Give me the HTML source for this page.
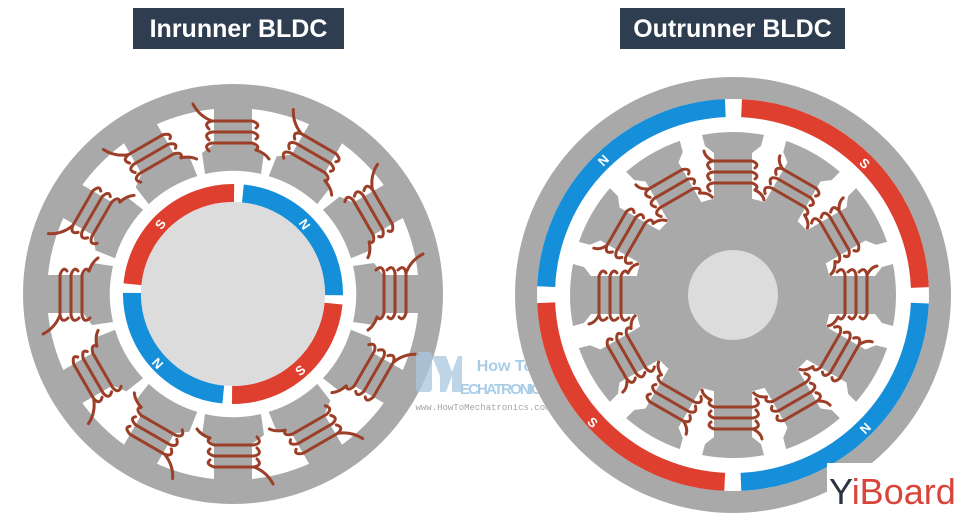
<!DOCTYPE html>
<html><head><meta charset="utf-8"><style>
html,body{margin:0;padding:0;background:#fff;}
svg{display:block;}
</style></head><body>
<svg width="960" height="520" viewBox="0 0 960 520" xmlns="http://www.w3.org/2000/svg">
<defs>
<g id="coilL" fill="none" stroke="#9c3f28" stroke-width="3" stroke-linecap="round">
  <path d="M -24 -143 Q -30 -149 -21 -151 L 19 -151 Q 28 -148 23 -144"/>
  <path d="M -24 -154 Q -30 -160 -21 -162 L 19 -162 Q 28 -159 23 -155"/>
  <path d="M -24 -165 Q -30 -171 -21 -173 L 19 -173 Q 28 -170 23 -166"/>
  <path d="M 23 -144 Q 32 -141 36 -135"/>
  <path d="M -21 -173 Q -34 -178 -40 -190"/>
</g>
<g id="toothL">
  <path d="M -19 -192 L 19 -192 L 19 -150 L 31 -141 L 28 -120 A 123.2 123.2 0 0 0 -28 -120 L -31 -141 L -19 -150 Z" fill="#a9a9a9"/>
</g>
<g id="coilR" fill="none" stroke="#9c3f28" stroke-width="3" stroke-linecap="round">
  <path d="M -23 -104 Q -29 -110 -20 -112 L 19 -112 Q 27 -109 22 -105"/>
  <path d="M -23 -115 Q -29 -121 -20 -123 L 19 -123 Q 27 -120 22 -116"/>
  <path d="M -23 -126 Q -29 -132 -20 -134 L 19 -134 Q 27 -131 22 -127"/>
  <path d="M 22 -105 Q 30 -101 31 -95"/>
  <path d="M -20 -134 Q -28 -138 -29 -144"/>
</g>
<g id="toothR">
  <path d="M -19 -80 L 19 -80 L 19 -142 L 28 -149 L 31 -160 A 163 163 0 0 0 -31 -160 L -28 -149 L -19 -142 Z" fill="#a9a9a9"/>
</g>
</defs>

<rect x="133" y="8" width="211" height="41" fill="#2e3e50"/>
<text x="238.5" y="37" text-anchor="middle" font-family="Liberation Sans, sans-serif" font-weight="bold" font-size="25" fill="#fff">Inrunner BLDC</text>
<rect x="620" y="8" width="225" height="41" fill="#2e3e50"/>
<text x="732.5" y="37" text-anchor="middle" font-family="Liberation Sans, sans-serif" font-weight="bold" font-size="25" fill="#fff">Outrunner BLDC</text>

<!-- LEFT -->
<g>
<circle cx="233" cy="294" r="210" fill="#a9a9a9"/>
<circle cx="233" cy="294" r="186" fill="#fff"/>
<g transform="translate(233 294)">
  <use href="#toothL" transform="rotate(0)"/><use href="#toothL" transform="rotate(30)"/>
  <use href="#toothL" transform="rotate(60)"/><use href="#toothL" transform="rotate(90)"/>
  <use href="#toothL" transform="rotate(120)"/><use href="#toothL" transform="rotate(150)"/>
  <use href="#toothL" transform="rotate(180)"/><use href="#toothL" transform="rotate(210)"/>
  <use href="#toothL" transform="rotate(240)"/><use href="#toothL" transform="rotate(270)"/>
  <use href="#toothL" transform="rotate(300)"/><use href="#toothL" transform="rotate(330)"/>
  <use href="#coilL" transform="rotate(0)"/><use href="#coilL" transform="rotate(30)"/>
  <use href="#coilL" transform="rotate(60)"/><use href="#coilL" transform="rotate(90)"/>
  <use href="#coilL" transform="rotate(120)"/><use href="#coilL" transform="rotate(150)"/>
  <use href="#coilL" transform="rotate(180)"/><use href="#coilL" transform="rotate(210)"/>
  <use href="#coilL" transform="rotate(240)"/><use href="#coilL" transform="rotate(270)"/>
  <use href="#coilL" transform="rotate(300)"/><use href="#coilL" transform="rotate(330)"/>
</g>
<circle cx="233" cy="294" r="119" fill="#fff"/>
<g transform="rotate(3 233 294)">
<circle cx="233" cy="294" r="101" fill="none" stroke="#de3f2e" stroke-width="18" stroke-dasharray="149.8 167.5" stroke-dashoffset="-4.4"/>
<circle cx="233" cy="294" r="101" fill="none" stroke="#168fdb" stroke-width="18" stroke-dasharray="149.8 167.5" stroke-dashoffset="-163.1"/>
</g>
<circle cx="233" cy="294" r="92" fill="#dcdcdc"/>
<g font-family="Liberation Sans, sans-serif" font-weight="bold" font-size="13" fill="#fff" text-anchor="middle">
<text transform="translate(160 224) rotate(-55)" y="5">S</text>
<text transform="translate(305 224) rotate(55)" y="5">N</text>
<text transform="translate(158 363) rotate(47)" y="5">N</text>
<text transform="translate(300 370) rotate(-41)" y="5">S</text>
</g>
</g>

<!-- Watermark -->
<g opacity="0.75">
<rect x="416" y="352" width="16" height="40" rx="3" fill="#a8c8e0"/>
<path d="M 432 356 L 446 356 L 452 372 L 458 356 L 462 356 L 462 392 L 452 392 L 452 376 L 446 392 L 440 392 L 440 376 Z" fill="#a8c8e0"/>
<text x="505" y="371" text-anchor="middle" font-family="Liberation Sans, sans-serif" font-weight="bold" font-size="16" fill="#8dbbe0">How To</text>
<text x="505" y="394" text-anchor="middle" font-family="Liberation Sans, sans-serif" font-weight="bold" font-size="15" fill="#8dbbe0" textLength="90">ECHATRONICS</text>
<text x="483" y="410" text-anchor="middle" font-family="Liberation Mono, monospace" font-size="9" fill="#888">www.HowToMechatronics.com</text>
</g>

<!-- RIGHT -->
<g>
<circle cx="733" cy="295" r="218" fill="#a9a9a9"/>
<circle cx="733" cy="295" r="196" fill="#fff"/>
<circle cx="733" cy="295" r="187" fill="none" stroke="#168fdb" stroke-width="18" stroke-dasharray="277.4 310.1" stroke-dashoffset="-8.2"/>
<circle cx="733" cy="295" r="187" fill="none" stroke="#de3f2e" stroke-width="18" stroke-dasharray="277.4 310.1" stroke-dashoffset="-889.5"/>
<g transform="translate(733 295)">
  <circle r="98" fill="#a9a9a9"/>
  <use href="#toothR" transform="rotate(0)"/><use href="#toothR" transform="rotate(30)"/>
  <use href="#toothR" transform="rotate(60)"/><use href="#toothR" transform="rotate(90)"/>
  <use href="#toothR" transform="rotate(120)"/><use href="#toothR" transform="rotate(150)"/>
  <use href="#toothR" transform="rotate(180)"/><use href="#toothR" transform="rotate(210)"/>
  <use href="#toothR" transform="rotate(240)"/><use href="#toothR" transform="rotate(270)"/>
  <use href="#toothR" transform="rotate(300)"/><use href="#toothR" transform="rotate(330)"/>
  <use href="#coilR" transform="rotate(0)"/><use href="#coilR" transform="rotate(30)"/>
  <use href="#coilR" transform="rotate(60)"/><use href="#coilR" transform="rotate(90)"/>
  <use href="#coilR" transform="rotate(120)"/><use href="#coilR" transform="rotate(150)"/>
  <use href="#coilR" transform="rotate(180)"/><use href="#coilR" transform="rotate(210)"/>
  <use href="#coilR" transform="rotate(240)"/><use href="#coilR" transform="rotate(270)"/>
  <use href="#coilR" transform="rotate(300)"/><use href="#coilR" transform="rotate(330)"/>
  <circle r="45" fill="#dcdcdc"/>
</g>
<g font-family="Liberation Sans, sans-serif" font-weight="bold" font-size="13" fill="#fff" text-anchor="middle">
<text transform="translate(603 160) rotate(-45)" y="5">N</text>
<text transform="translate(865 163) rotate(45)" y="5">S</text>
<text transform="translate(593 422) rotate(45)" y="5">S</text>
<text transform="translate(865 428) rotate(-45)" y="5">N</text>
</g>
</g>

<rect x="827" y="463" width="133" height="57" fill="#fff"/>
<text x="829" y="504" font-family="Liberation Sans, sans-serif" font-size="36" fill="#d9443a"><tspan fill="#2b3440">Y</tspan>iBoard</text>
</svg>
</body></html>
